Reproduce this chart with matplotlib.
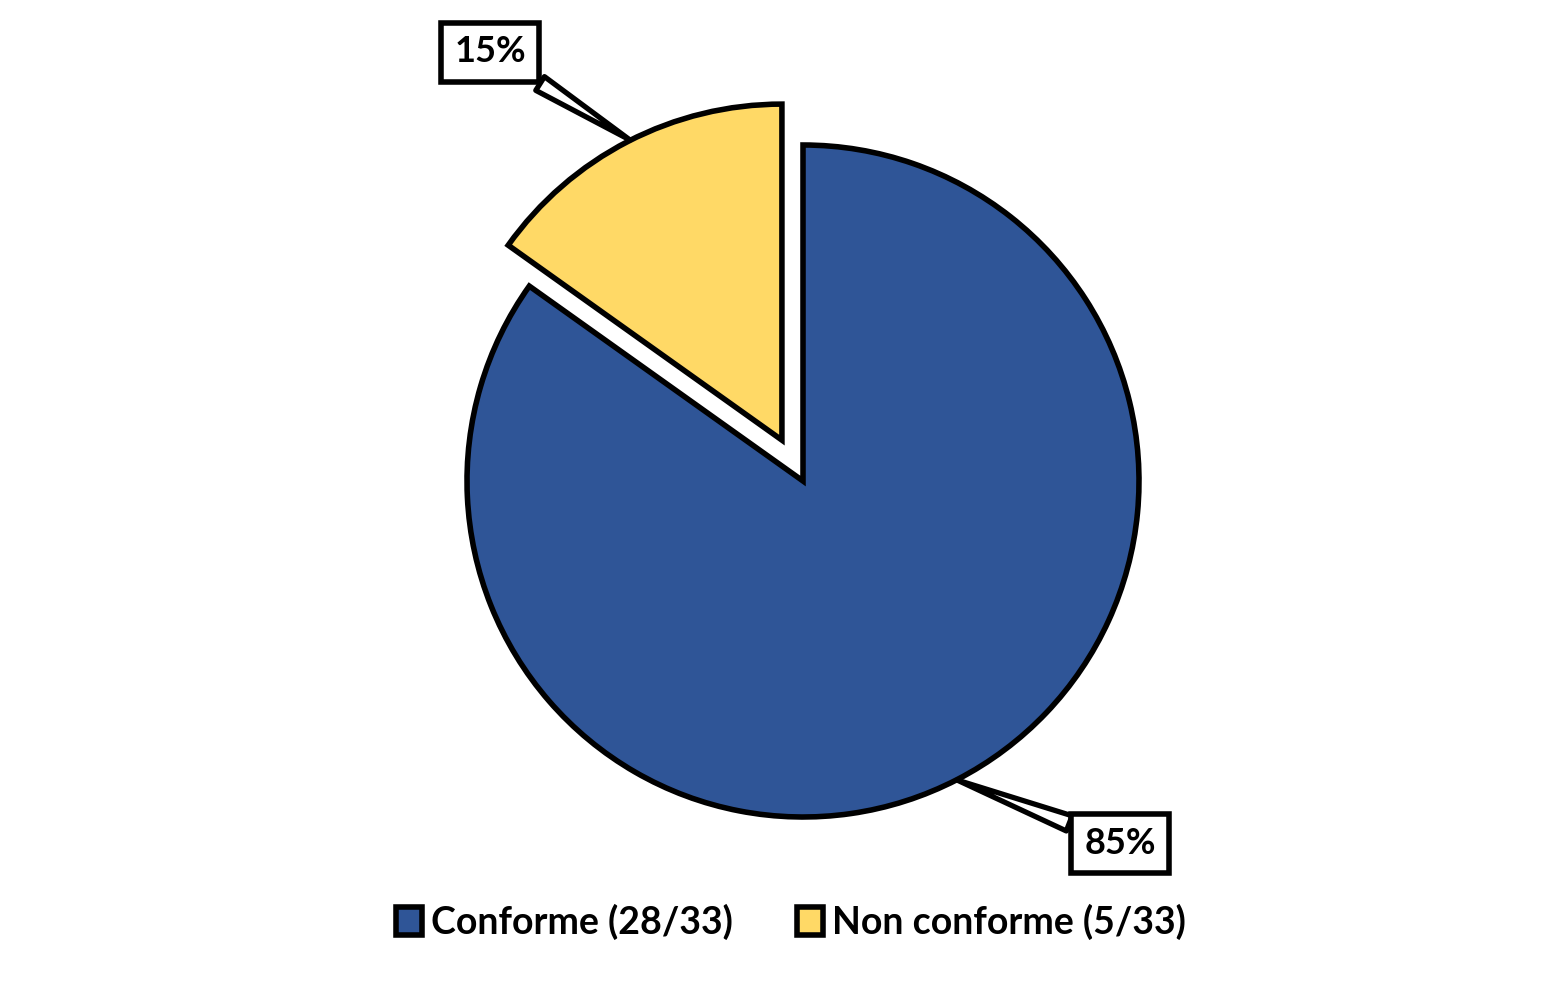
import numpy as np
import matplotlib.pyplot as plt

plt.rcParams['font.family'] = ['Lato', 'DejaVu Sans']

labels = ['Conforme (28/33)', 'Non conforme (5/33)']
counts = [28, 33 - 28]
colors = ['#2F5597', '#FFD966']
pct_text = ['85%', '15%']

fig = plt.figure(figsize=(15.67, 9.89), dpi=100)
ax = fig.add_axes([0, 0, 1, 1])

# pixel-like data coords so placing things is easy
W, H = 1567, 989
cx, cy, r = 803, H - 481, 336

wedges, _ = ax.pie(counts, colors=colors, startangle=90, counterclock=False,
                   center=(cx, cy), radius=r, explode=[0, 46],
                   wedgeprops=dict(edgecolor='black', linewidth=4))
ax.set_xlim(0, W)
ax.set_ylim(0, H)
ax.set_aspect('equal')
ax.axis('off')

# callout labels
pts = [(957, H - 780), (630, H - 140)]
boxes = [(1120, H - 843), (490, H - 52)]
for t, p, b in zip(pct_text, pts, boxes):
    ax.annotate(t, xy=p, xytext=b, ha='center', va='center',
                fontsize=26, fontweight='bold', color='black',
                bbox=dict(boxstyle='square,pad=0.36', fc='white', ec='black', lw=4),
                arrowprops=dict(arrowstyle='wedge,tail_width=0.45,shrink_factor=0.5',
                                fc='white', ec='black', lw=3.8,
                                shrinkA=0, shrinkB=0))

leg = fig.legend(wedges, labels, loc='center', bbox_to_anchor=(791 / W, 1 - 922 / H),
                 ncol=2, frameon=False, prop=dict(weight='bold', size=27),
                 handlelength=0.7, handleheight=0.8, handletextpad=0.25,
                 columnspacing=1.7)

fig.savefig('out.png', dpi=100)
